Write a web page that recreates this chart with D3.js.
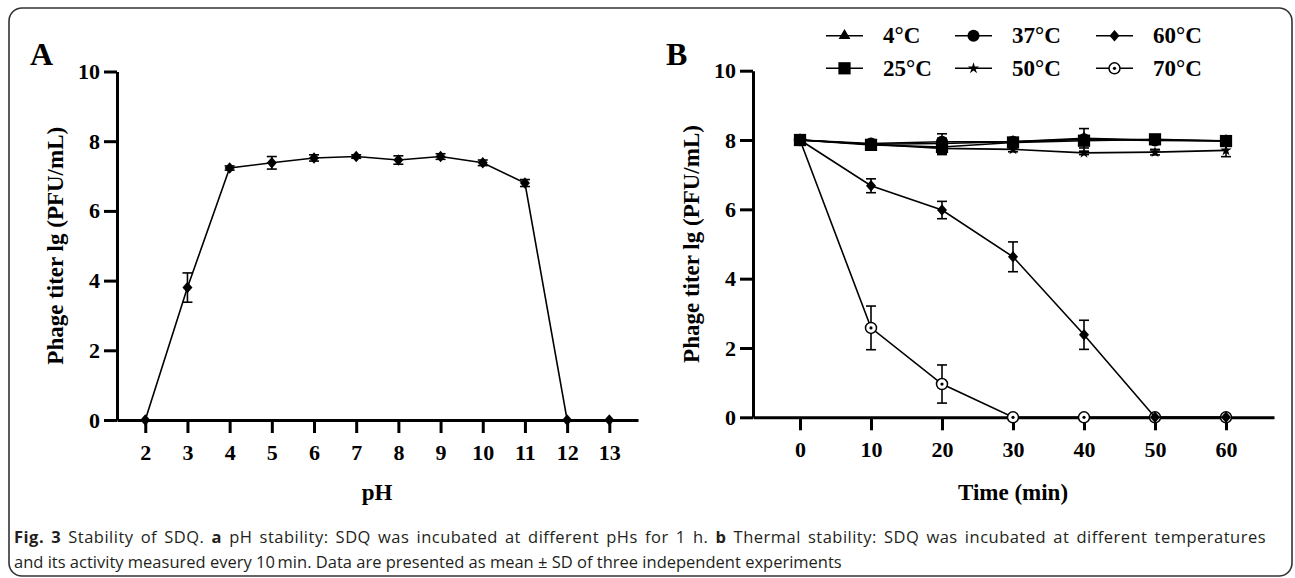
<!DOCTYPE html>
<html>
<head>
<meta charset="utf-8">
<script src="https://cdn.jsdelivr.net/npm/d3@7"></script>
<style>
  body { margin: 0; background: #fff; }
  .axis path, .axis line { stroke: #000; stroke-width: 3; }
  .axis text { font-family: "Liberation Serif", "Times New Roman", serif; font-weight: bold; font-size: 22px; fill: #000; }
  .title { font-family: "Liberation Serif", "Times New Roman", serif; font-weight: bold; font-size: 23px; }
  .caption { font-family: "Open Sans", sans-serif; font-size: 16.5px; fill: #231f20; }
</style>
</head>
<body>
<svg id="chart"></svg>
<script>
// panel A: pH stability
var phValues = [2, 3, 4, 5, 6, 7, 8, 9, 10, 11, 12, 13];
var phMeans  = [0, 3.8, 7.23, 7.38, 7.52, 7.56, 7.46, 7.56, 7.38, 6.8, 0, 0];
var phSD     = [0, 0.42, 0.06, 0.18, 0.09, 0.05, 0.12, 0.08, 0.08, 0.1, 0, 0];

// panel B: thermal stability
var timePoints = [0, 10, 20, 30, 40, 50, 60];
var tempLabels = ["4°C", "25°C", "37°C", "50°C", "60°C", "70°C"];
var mean4  = [8.0, 7.88, 7.9, 7.95, 8.05, 8.0, 7.98];
var sd4    = [0, 0.05, 0.28, 0.05, 0.28, 0.05, 0.04];
var mean25 = [8.0, 7.86, 7.8, 7.93, 7.98, 8.02, 7.97];
var sd25   = [0, 0.06, 0.22, 0.06, 0.1, 0.06, 0.05];
var mean37 = [8.0, 7.9, 7.95, 7.95, 8.02, 7.99, 7.97];
var sd37   = [0, 0.05, 0.1, 0.05, 0.1, 0.05, 0.05];
var mean50 = [8.0, 7.88, 7.76, 7.73, 7.63, 7.65, 7.7];
var sd50   = [0, 0.05, 0.08, 0.07, 0.05, 0.08, 0.18];
var mean60 = [8.0, 6.68, 5.98, 4.63, 2.38, 0, 0];
var sd60   = [0, 0.2, 0.25, 0.43, 0.42, 0, 0];
var mean70 = [8.0, 2.58, 0.96, 0, 0, 0, 0];
var sd70   = [0, 0.63, 0.55, 0, 0, 0, 0];

var yTicks = [0, 2, 4, 6, 8, 10];

var svg = d3.select("#chart")
            .attr("width", 1295)
            .attr("height", 578);

// frame
svg.append("rect")
   .attr("x", 9).attr("y", 8)
   .attr("width", 1283).attr("height", 568)
   .attr("rx", 13)
   .attr("fill", "none")
   .attr("stroke", "#333")
   .attr("stroke-width", 1.6);

var diamond = {
  draw: function(ctx, size){
    var r = Math.sqrt(size) / 2;
    ctx.moveTo(0, -r * 1.15);
    ctx.lineTo(r, 0);
    ctx.lineTo(0, r * 1.15);
    ctx.lineTo(-r, 0);
    ctx.closePath();
  }
};

var drawErrors = function(g, pts, x, y){
  pts.forEach(function(p){
    if (p.sd <= 0) return;
    var cx = x(p.x);
    g.append("line")
     .attr("x1", cx).attr("x2", cx)
     .attr("y1", y(p.m - p.sd)).attr("y2", y(p.m + p.sd))
     .attr("stroke", "#000").attr("stroke-width", 1.6);
    [p.m - p.sd, p.m + p.sd].forEach(function(v){
      g.append("line")
       .attr("x1", cx - 5).attr("x2", cx + 5)
       .attr("y1", y(v)).attr("y2", y(v))
       .attr("stroke", "#000").attr("stroke-width", 1.6);
    });
  });
};

var drawMarker = function(g, kind, cx, cy){
  if (kind == "ring") {
    g.append("circle").attr("cx", cx).attr("cy", cy).attr("r", 5.5)
     .attr("fill", "#fff").attr("stroke", "#000").attr("stroke-width", 1.5);
    g.append("circle").attr("cx", cx).attr("cy", cy).attr("r", 1.6).attr("fill", "#000");
    return;
  }
  var types = {
    tri: [d3.symbolTriangle, 60],
    square: [d3.symbolSquare, 150],
    circle: [d3.symbolCircle, 115],
    star: [d3.symbolStar, 40],
    diamond: [diamond, 100]
  };
  g.append("path")
   .attr("transform", "translate(" + cx + "," + cy + ")")
   .attr("d", d3.symbol().type(types[kind][0]).size(types[kind][1])())
   .attr("fill", "#000");
};

var drawAxes = function(g, x, y, xTicks, x0, yTitle, xTitle, xTitleX, yTitleX){
  g.append("g")
   .attr("class", "axis")
   .attr("transform", "translate(0," + y(0) + ")")
   .call(d3.axisBottom(x).tickValues(xTicks).tickSize(13).tickSizeOuter(0).tickPadding(11));
  g.append("g")
   .attr("class", "axis")
   .attr("transform", "translate(" + x0 + ",0)")
   .call(d3.axisLeft(y).tickValues(yTicks).tickSize(13).tickSizeOuter(0).tickPadding(4));
  g.append("text")
   .attr("class", "title")
   .attr("text-anchor", "middle")
   .attr("transform", "translate(" + yTitleX + "," + ((y(0) + y(10)) / 2) + ") rotate(-90)")
   .text(yTitle);
  g.append("text")
   .attr("class", "title")
   .attr("text-anchor", "middle")
   .attr("x", xTitleX)
   .attr("y", 500)
   .text(xTitle);
};

// ---- panel A ----
var xA = d3.scaleLinear().domain([1.33, 13.68]).range([117, 638]);
var yA = d3.scaleLinear().domain([0, 10]).range([420, 71.5]);
var gA = svg.append("g");

drawAxes(gA, xA, yA, phValues, 117, "Phage titer lg (PFU/mL)", "pH", 377, 63);

var ptsA = phValues.map(function(d, i){ return {x: d, m: phMeans[i], sd: phSD[i]}; });
var line = function(x, y){
  return d3.line().x(function(d){ return x(d.x); }).y(function(d){ return y(d.m); });
};
gA.append("path")
  .datum(ptsA)
  .attr("d", line(xA, yA))
  .attr("fill", "none").attr("stroke", "#000").attr("stroke-width", 1.6);
drawErrors(gA, ptsA, xA, yA);
ptsA.forEach(function(p){ drawMarker(gA, "diamond", xA(p.x), yA(p.m)); });

svg.append("text")
   .attr("x", 30).attr("y", 65)
   .attr("font-family", "Liberation Serif, serif")
   .attr("font-weight", "bold")
   .attr("font-size", 32)
   .text("A");

// ---- panel B ----
var xB = d3.scaleLinear().domain([-6.62, 66.76]).range([753, 1274]);
var yB = d3.scaleLinear().domain([0, 10]).range([417.3, 70.7]);
var gB = svg.append("g");

drawAxes(gB, xB, yB, timePoints, 753, "Phage titer lg (PFU/mL)", "Time (min)", 1013, 699);

var series = [
  {name: tempLabels[5], m: mean70, sd: sd70, kind: "ring"},
  {name: tempLabels[4], m: mean60, sd: sd60, kind: "diamond"},
  {name: tempLabels[3], m: mean50, sd: sd50, kind: "star"},
  {name: tempLabels[2], m: mean37, sd: sd37, kind: "circle"},
  {name: tempLabels[0], m: mean4,  sd: sd4,  kind: "tri"},
  {name: tempLabels[1], m: mean25, sd: sd25, kind: "square"}
];

series.forEach(function(s){
  var pts = timePoints.map(function(t, i){ return {x: t, m: s.m[i], sd: s.sd[i]}; });
  gB.append("path")
    .datum(pts)
    .attr("d", line(xB, yB))
    .attr("fill", "none").attr("stroke", "#000").attr("stroke-width", 1.6);
  drawErrors(gB, pts, xB, yB);
  pts.forEach(function(p){ drawMarker(gB, s.kind, xB(p.x), yB(p.m)); });
});

svg.append("text")
   .attr("x", 666).attr("y", 65)
   .attr("font-family", "Liberation Serif, serif")
   .attr("font-weight", "bold")
   .attr("font-size", 32)
   .text("B");

// legend, 3 columns x 2 rows
var legendOrder = [
  {name: tempLabels[0], kind: "tri"},
  {name: tempLabels[1], kind: "square"},
  {name: tempLabels[2], kind: "circle"},
  {name: tempLabels[3], kind: "star"},
  {name: tempLabels[4], kind: "diamond"},
  {name: tempLabels[5], kind: "ring"}
];
var colX = [826, 955, 1096];
var rowY = [35.7, 68.3];
var legend = svg.append("g");
legendOrder.forEach(function(d, i){
  var lx = colX[Math.floor(i / 2)], ly = rowY[i % 2];
  legend.append("line")
        .attr("x1", lx).attr("x2", lx + 37)
        .attr("y1", ly).attr("y2", ly)
        .attr("stroke", "#000").attr("stroke-width", 1.6);
  drawMarker(legend, d.kind, lx + 18.5, ly);
  legend.append("text")
        .attr("class", "title")
        .attr("font-size", 21)
        .attr("x", lx + 57)
        .attr("y", ly + 7.5)
        .text(d.name);
});

// caption (first line spread to the box width)
var cap1 = svg.append("text").attr("class", "caption").attr("x", 14).attr("y", 543);
cap1.append("tspan").attr("font-weight", "bold").text("Fig. 3");
cap1.append("tspan").text(" Stability of SDQ. ");
cap1.append("tspan").attr("font-weight", "bold").text("a");
cap1.append("tspan").text(" pH stability: SDQ was incubated at different pHs for 1 h. ");
cap1.append("tspan").attr("font-weight", "bold").text("b");
cap1.append("tspan").text(" Thermal stability: SDQ was incubated at different temperatures");

var capLen = cap1.node().getComputedTextLength();
var capText = cap1.text();
var nSpaces = capText.split(" ").length - 1;
var extra = 1252 - capLen;
cap1.style("letter-spacing", ((extra * 0.55) / capText.length) + "px")
    .style("word-spacing", ((extra * 0.45) / nSpaces) + "px");

svg.append("text").attr("class", "caption").attr("x", 14).attr("y", 568)
   .text("and its activity measured every 10\u2009min. Data are presented as mean \u00b1 SD of three independent experiments");
</script>
</body>
</html>
